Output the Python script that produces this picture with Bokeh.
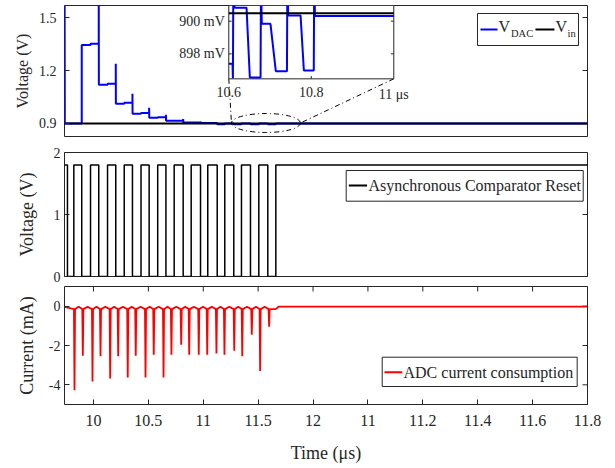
import math
from bokeh.plotting import figure
from bokeh.layouts import column
from bokeh.models import FixedTicker, Range1d
from bokeh.core.properties import value
from bokeh.embed import file_html
from bokeh.resources import INLINE

# ---------------- data ----------------
# shared time axis (as printed on the original figure)
x_start, x_end = 9.736, 14.5
x_tick_values = [10, 10.5, 11, 11.5, 12, 12.5, 13, 13.5, 14, 14.5]
x_tick_labels = ["10", "10.5", "11", "11.5", "12", "11", "11.2", "11.4", "11.6", "11.8"]

# top panel: DAC output voltage and input voltage (V)
v_ticks = [0.9, 1.2, 1.5]
v_tick_labels = ["0.9", "1.2", "1.5"]
vdac_t = [9.737, 9.739, 9.893, 9.893, 9.973, 9.973, 10.048, 10.048, 10.049, 10.128,
          10.128, 10.203, 10.203, 10.204, 10.280, 10.280, 10.355, 10.355, 10.356, 10.433,
          10.433, 10.507, 10.507, 10.508, 10.585, 10.585, 10.660, 10.660, 10.661, 10.817,
          10.817, 10.818, 10.975, 10.975, 10.976, 11.127, 11.128, 11.196, 11.197, 11.278,
          11.279, 11.348, 11.349, 11.430, 11.431, 11.506, 11.507, 11.588, 11.589, 11.661,
          11.662, 14.5]
vdac_v = [1.60, 0.900, 0.900, 1.345, 1.345, 1.351, 1.351, 1.62, 1.119, 1.119,
          1.125, 1.125, 1.238, 1.012, 1.012, 1.017, 1.017, 1.068, 0.955, 0.955,
          0.959, 0.959, 0.989, 0.932, 0.932, 0.935, 0.935, 0.949, 0.915, 0.915,
          0.926, 0.906, 0.906, 0.912, 0.903, 0.903, 0.8955, 0.8955, 0.900, 0.900,
          0.8955, 0.8955, 0.900, 0.900, 0.8955, 0.8955, 0.900, 0.900, 0.8955, 0.8955,
          0.900, 0.900]
vin_t = [9.736, 14.5]
vin_v = [0.9, 0.9]

# inset: zoom of 10.6 - 11 us (mV)
inset_vdac_t = [10.600, 10.609, 10.610, 10.611, 10.614, 10.643, 10.651, 10.677, 10.678, 10.680,
                10.701, 10.714, 10.741, 10.742, 10.744, 10.774, 10.782, 10.806, 10.807, 10.809,
                11.000]
inset_vdac_v = [897.40, 897.40, 896.50, 902.5, 900.82, 900.82, 896.55, 896.55, 902.5, 899.84,
                899.84, 896.94, 896.94, 902.5, 900.35, 900.35, 896.98, 896.98, 902.5, 900.31,
                900.31]
inset_vin_t = [10.6, 11.0]
inset_vin_v = [900.49, 900.49]
inset_y_ticks = [898, 900]
inset_y_labels = ["898 mV", "900 mV"]
inset_x_ticks = [10.6, 10.8, 11.0]
inset_x_labels = ["10.6", "10.8", "11 μs"]
inset_x_span = (10.6, 11.0)
inset_y_span = (896.47, 900.96)

# middle panel: asynchronous comparator reset (V)
r_ticks = [0, 1, 2]
r_tick_labels = ["0", "1", "2"]
reset_level = 1.8
reset_fall_t = [9.763, 9.893, 10.048, 10.203, 10.355, 10.507, 10.660, 10.817, 10.975,
                11.127, 11.278, 11.430, 11.588]
reset_rise_t = [9.821, 9.973, 10.128, 10.280, 10.433, 10.585, 10.735, 10.890, 11.041,
                11.196, 11.348, 11.506, 11.661]

# bottom panel: ADC current consumption (mA)
i_ticks = [-4, -2, 0]
i_tick_labels = ["-4", "-2", "0"]
spike_t = [9.827, 9.903, 9.991, 10.064, 10.152, 10.225, 10.312, 10.385, 10.474, 10.549,
           10.638, 10.710, 10.799, 10.872, 10.959, 11.036, 11.120, 11.193, 11.282, 11.355,
           11.442, 11.518, 11.600]
spike_i = [-4.27, -2.52, -3.83, -2.55, -3.68, -2.55, -3.63, -2.52, -3.63, -2.47,
           -3.63, -2.47, -1.96, -2.47, -2.47, -2.47, -2.40, -2.47, -2.26, -2.55,
           -1.45, -3.30, -1.05]
i_base = -0.15
i_ripple = -0.03
i_idle = -0.02
i_settle_t = [11.66, 11.688]

# ---------------- derived series ----------------
reset_t, reset_v = [x_start], [reset_level]
for f, r in zip(reset_fall_t, reset_rise_t):
    reset_t += [f, f, r, r]
    reset_v += [reset_level, 0, 0, reset_level]
reset_t.append(x_end)
reset_v.append(reset_level)

cur_t, cur_v = [x_start], [i_ripple]
for k, (t, d) in enumerate(zip(spike_t, spike_i)):
    cur_t += [t - 0.005, t, t + 0.005]
    cur_v += [i_base, d, i_base]
    if k < len(spike_t) - 1:
        cur_t.append((t + spike_t[k + 1]) / 2)
        cur_v.append(i_ripple)
cur_t += [i_settle_t[0], i_settle_t[1], x_end]
cur_v += [i_base, i_idle, i_idle]

# ---------------- styling ----------------
FONT = "Liberation Serif"
AX = "#262626"
W = 615
FL = 64
FR = 28
xr = Range1d(x_start, x_end)


def make_fig(height, yr, top, bottom, show_x):
    p = figure(width=W, height=height, x_range=xr, y_range=yr,
               x_axis_location="below" if show_x else None,
               toolbar_location=None, output_backend="svg",
               min_border_left=FL, min_border_right=FR,
               min_border_top=top, min_border_bottom=bottom)
    p.grid.visible = False
    p.outline_line_color = AX
    p.outline_line_alpha = 1.0
    p.outline_line_width = 1
    p.background_fill_color = "white"
    p.border_fill_color = "white"
    return p


def style_axis(ax, ticks, labels, size, standoff):
    ax.ticker = FixedTicker(ticks=ticks)
    ax.major_label_overrides = dict(zip(ticks, labels))
    ax.major_tick_in = 5
    ax.major_tick_out = 0
    ax.minor_tick_in = 0
    ax.minor_tick_out = 0
    ax.axis_line_color = None
    ax.major_tick_line_color = AX
    ax.major_label_text_font = FONT
    ax.major_label_text_font_size = size
    ax.major_label_text_color = AX
    ax.major_label_standoff = standoff


def mirror_ticks_right(p, ticks):
    # dash markers centred on the right frame edge; the frame clips the outer half
    p.scatter(x=[x_end] * len(ticks), y=ticks, marker="dash", size=10,
              line_color=AX, line_width=1)


def mirror_ticks_top(p, ticks, ytop):
    p.scatter(x=ticks, y=[ytop] * len(ticks), marker="dash", angle=math.pi / 2, size=10,
              line_color=AX, line_width=1)


def y_label(p, text, size, standoff):
    ax = p.yaxis[0]
    ax.axis_label = text
    ax.axis_label_text_font = FONT
    ax.axis_label_text_font_size = size
    ax.axis_label_text_font_style = "normal"
    ax.axis_label_text_color = AX
    ax.axis_label_standoff = standoff


def txt(p, x, y, s, size, align="left", baseline="middle", **kw):
    p.text(x=x, y=y, text=s, text_font=value(FONT), text_font_size=size,
           text_color=AX, text_align=align, text_baseline=baseline, **kw)


# ---------------- top panel ----------------
y1 = Range1d(0.8264, 1.568)
p1 = make_fig(144, y1, 5, 8, False)
style_axis(p1.yaxis[0], v_ticks, v_tick_labels, "14px", 8)
y_label(p1, "Voltage (V)", "16px", 5)
mirror_ticks_right(p1, v_ticks)

p1.line(vdac_t, vdac_v, line_color="#0000ff", line_width=2)
p1.line(vin_t, vin_v, line_color="black", line_width=2)

# zoom ellipse and connectors
p1.ellipse(x=[11.571], y=[0.9028], width=[0.6285], height=[0.1075],
           fill_color=None, line_color="black", line_width=1, line_dash="5 3 1 3")
p1.segment(x0=[11.2325, 12.7355], y0=[1.153, 1.153], x1=[11.257, 11.885], y1=[0.9028, 0.9028],
           line_color="black", line_width=1, line_dash="5 3 1 3")

# inset drawn on its own ranges
p1.extra_x_ranges = {"ix": Range1d(10.2017, 11.4696)}
p1.extra_y_ranges = {"iy": Range1d(892.94, 900.96)}
ik = dict(x_range_name="ix", y_range_name="iy")
p1.quad(left=[inset_x_span[0]], right=[inset_x_span[1]], bottom=[inset_y_span[0]],
        top=[inset_y_span[1]], fill_color="white", line_color=AX, line_width=1, **ik)
p1.line(inset_vdac_t, inset_vdac_v, line_color="#0000ff", line_width=2, **ik)
p1.line(inset_vin_t, inset_vin_v, line_color="black", line_width=2, **ik)
p1.segment(x0=[10.6] * 2, y0=inset_y_ticks, x1=[10.607] * 2, y1=inset_y_ticks,
           line_color=AX, line_width=1, **ik)
p1.segment(x0=[10.993] * 2, y0=inset_y_ticks, x1=[11.0] * 2, y1=inset_y_ticks,
           line_color=AX, line_width=1, **ik)
p1.segment(x0=[10.8], y0=[inset_y_span[0]], x1=[10.8], y1=[inset_y_span[0] + 0.17],
           line_color=AX, line_width=1, **ik)
txt(p1, [10.6] * 2, inset_y_ticks, inset_y_labels, "14px", align="right", x_offset=-4, **ik)
txt(p1, inset_x_ticks, [inset_y_span[0]] * 3, inset_x_labels, "14px", align="center",
    baseline="top", y_offset=8, **ik)

# legend
p1.quad(left=[13.498], right=[14.418], bottom=[1.3416], top=[1.5227],
        fill_color="white", line_color=AX, line_width=1)
p1.segment(x0=[13.525], y0=[1.432], x1=[13.680], y1=[1.432], line_color="#0000ff", line_width=2)
p1.segment(x0=[14.026], y0=[1.432], x1=[14.199], y1=[1.432], line_color="black", line_width=2)
txt(p1, [13.689, 14.208], [1.449, 1.449], ["V", "V"], "16px")
txt(p1, [13.803, 14.318], [1.4094, 1.4094], ["DAC", "in"], "10.5px")

# ---------------- middle panel ----------------
p2 = make_fig(141, Range1d(0, 2), 8, 9, False)
style_axis(p2.yaxis[0], r_ticks, r_tick_labels, "14px", 4)
y_label(p2, "Voltage (V)", "18px", 14)
mirror_ticks_right(p2, r_ticks)
p2.line(reset_t, reset_v, line_color="black", line_width=1.5)
p2.quad(left=[12.302], right=[14.461], bottom=[1.2145], top=[1.7097],
        fill_color="white", line_color=AX, line_width=1)
p2.segment(x0=[12.326], y0=[1.4677], x1=[12.492], y1=[1.4677], line_color="black", line_width=2)
txt(p2, [12.505], [1.4677], ["Asynchronous Comparator Reset"], "16px")

# ---------------- bottom panel ----------------
y3 = Range1d(-5, 1)
p3 = make_fig(183, y3, 1, 64, True)
style_axis(p3.yaxis[0], i_ticks, i_tick_labels, "14px", 4)
y_label(p3, "Current (mA)", "18px", 9)
mirror_ticks_right(p3, i_ticks)
mirror_ticks_top(p3, x_tick_values, y3.end)
xa = p3.xaxis[0]
style_axis(xa, x_tick_values, x_tick_labels, "16px", 10)
xa.axis_label = "Time (μs)"
xa.axis_label_text_font = FONT
xa.axis_label_text_font_size = "18px"
xa.axis_label_text_font_style = "normal"
xa.axis_label_text_color = AX
xa.axis_label_standoff = 14
p3.line(cur_t, cur_v, line_color="#ff0000", line_width=1.8)
p3.quad(left=[12.630], right=[14.406], bottom=[-4.085], top=[-2.595],
        fill_color="white", line_color=AX, line_width=1)
p3.segment(x0=[12.651], y0=[-3.358], x1=[12.812], y1=[-3.358], line_color="#ff0000", line_width=2)
txt(p3, [12.824], [-3.358], ["ADC current consumption"], "16px")

layout = column(p1, p2, p3, spacing=0)
open("out.html", "w").write(file_html(layout, INLINE))
